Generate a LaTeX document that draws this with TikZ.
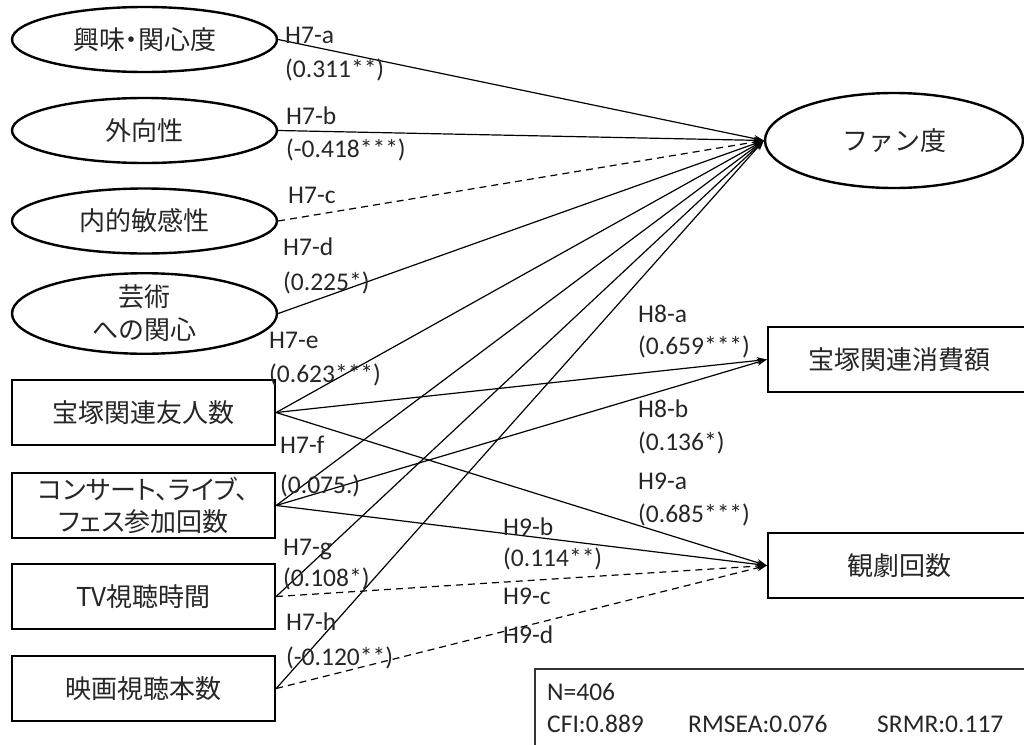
\documentclass[tikz,border=0pt]{standalone}
\usepackage{fontspec}
\setmainfont{Carlito}
\newfontfamily\jp{Noto Sans CJK JP}
\newfontfamily\jpp[RawFeature=+palt]{Noto Sans CJK JP}
\usetikzlibrary{arrows.meta,shapes.geometric}
\begin{document}
\begin{tikzpicture}[x=1pt,y=-1pt,
  lat/.style={draw,ellipse,line width=2.4pt,minimum width=265pt,minimum height=65pt,inner sep=0pt,font=\jp\fontsize{26}{33}\selectfont,align=center,text=black!85},
  obs/.style={draw,rectangle,line width=2.4pt,minimum width=263pt,minimum height=65pt,inner sep=0pt,font=\jp\fontsize{26}{32}\selectfont,align=center,text=black!85},
  arr/.style={line width=1.2pt,-{Stealth[length=10pt,width=7pt]}},
  arrd/.style={arr,dash pattern=on 7pt off 5pt},
  lab/.style={anchor=base west,inner sep=0pt,font=\fontsize{25.5}{28}\selectfont,text=black!85}
]
\clip (0,0) rectangle (1024,744);
\fill[white] (0,0) rectangle (1024,744);

% left latent variables
\node[lat,font=\jpp\fontsize{26}{33}\selectfont] (int) at (144.5,39.5) {興味・関心度};
\node[lat] (ext) at (144.5,130.5) {外向性};
\node[lat] (sen) at (144.5,221) {内的敏感性};
\node[lat] (art) at (144.5,313.5) {芸術\\への関心};

% left observed variables
\node[obs] (fri) at (143.5,412.5) {宝塚関連友人数};
\node[obs,font=\jpp\fontsize{26}{32}\selectfont] (con) at (143.5,505.5) {コンサート、ライブ、\\フェス参加回数};
\node[obs] (tv)  at (143.5,596.5) {TV視聴時間};
\node[obs] (mov) at (143.5,688.5) {映画視聴本数};

% right
\node[lat,minimum width=258pt,minimum height=95pt] (fan) at (894,140.5) {ファン度};
\node[obs] (spe) at (899.5,359.5) {宝塚関連消費額};
\node[obs] (see) at (899.5,565.5) {観劇回数};

% H7 paths
\draw[arr]  (int.east) -- (fan.west);
\draw[arr]  (ext.east) -- (fan.west);
\draw[arrd] (sen.east) -- (fan.west);
\draw[arr]  (art.east) -- (fan.west);
\draw[arr]  (fri.east) -- (fan.west);
\draw[arr]  (con.east) -- (fan.west);
\draw[arr]  (tv.east)  -- (fan.west);
\draw[arr]  (mov.east) -- (fan.west);
% H8 paths
\draw[arr]  (fri.east) -- (spe.west);
\draw[arr]  (con.east) -- (spe.west);
% H9 paths
\draw[arr]  (fri.east) -- (see.west);
\draw[arr]  (con.east) -- (see.west);
\draw[arrd] (tv.east)  -- (see.west);
\draw[arrd] (mov.east) -- (see.west);

% labels
\node[lab] (l7a) at (285,43) {H7-a};
\node[lab] (c7a) at (285,77) {(0.311**)};
\node[lab] (l7b) at (286,124) {H7-b};
\node[lab] (c7b) at (286,157) {(-0.418***)};
\node[lab] (l7c) at (288,203) {H7-c};
\node[lab] (l7d) at (283,255) {H7-d};
\node[lab] (c7d) at (283,290) {(0.225*)};
\node[lab] (l7e) at (269,348) {H7-e};
\node[lab] (c7e) at (269,382) {(0.623***)};
\node[lab] (l7f) at (280,453) {H7-f};
\node[lab] (c7f) at (280,493) {(0.075.)};
\node[lab] (l7g) at (283,555) {H7-g};
\node[lab] (c7g) at (283,586) {(0.108*)};
\node[lab] (l7h) at (286,630) {H7-h};
\node[lab] (c7h) at (286,665) {(-0.120**)};
\node[lab] (l8a) at (638,322) {H8-a};
\node[lab] (c8a) at (638,354) {(0.659***)};
\node[lab] (l8b) at (638,417) {H8-b};
\node[lab] (c8b) at (638,450) {(0.136*)};
\node[lab] (l9a) at (638,489) {H9-a};
\node[lab] (c9a) at (638,522) {(0.685***)};
\node[lab] (l9b) at (503,535) {H9-b};
\node[lab] (c9b) at (503,566) {(0.114**)};
\node[lab] (l9c) at (503,604) {H9-c};
\node[lab] (l9d) at (503,643) {H9-d};

% fit statistics
\draw[line width=1.2pt,black!80] (535,669) rectangle (1030,750);
\node[lab] (n) at (547,700) {N=406};
\node[lab] (cfi) at (547,732) {CFI:0.889};
\node[lab] (rmsea) at (688,732) {RMSEA:0.076};
\node[lab] (srmr) at (877,732) {SRMR:0.117};
\end{tikzpicture}
\end{document}
